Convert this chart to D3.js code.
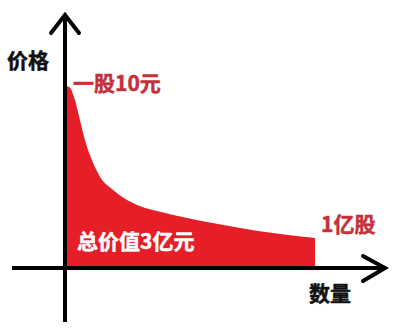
<!DOCTYPE html>
<html><head><meta charset="utf-8">
<script src="https://cdn.jsdelivr.net/npm/d3@7"></script>
<style>html,body{margin:0;padding:0;background:#fff;}svg{display:block;}</style>
</head><body>
<svg id="c" width="415" height="334"></svg>
<script>
// Quantity (亿股) and price (元) along the demand curve
const quantity = [0, 0.016, 0.036, 0.056, 0.076, 0.104, 0.137, 0.189, 0.269, 0.398, 0.566, 0.699, 0.831, 1];
const price    = [10, 9.9, 9.23, 8.13, 7.03, 5.93, 5.0, 4.29, 3.57, 3.02, 2.53, 2.2, 1.92, 1.65];
const axisLabels = ["价格", "数量"];
const annotations = ["一股10元", "1亿股", "总价值3亿元"];

const svg = d3.select("#c");
const x = d3.scaleLinear().domain([0, 1]).range([66, 315]);
const y = d3.scaleLinear().domain([0, 10]).range([268, 86]);
const data = quantity.map((q, i) => ({q, p: price[i]}));

const area = d3.area().x(d => x(d.q)).y0(y(0)).y1(d => y(d.p)).curve(d3.curveMonotoneX);
svg.append("path").datum(data).attr("d", area).attr("fill", "#e61e27");

const font = "'Noto Sans CJK SC', sans-serif";
// axes
const ax = x(0) - 1, ay = y(0);
svg.append("line").attr("x1", ax).attr("y1", 14).attr("x2", ax).attr("y2", 322)
  .attr("stroke", "#000").attr("stroke-width", 4);
svg.append("path").attr("d", `M${ax-14},${33} L${ax},${15} L${ax+14},${33}`)
  .attr("fill", "none").attr("stroke", "#000").attr("stroke-width", 4).attr("stroke-linecap","round");
svg.append("line").attr("x1", 12).attr("y1", ay).attr("x2", 386).attr("y2", ay)
  .attr("stroke", "#000").attr("stroke-width", 4);
svg.append("path").attr("d", `M${363},${256} L${385},${ay} L${363},${281}`)
  .attr("fill", "none").attr("stroke", "#000").attr("stroke-width", 4).attr("stroke-linecap","round");

function txt(t, xx, yy, fill, size) {
  svg.append("text").attr("x", xx).attr("y", yy).attr("fill", fill)
    .attr("stroke", fill).attr("stroke-width", 0.5)
    .attr("font-family", font).attr("font-weight", "bold").attr("font-size", size).text(t);
}
txt(axisLabels[0], 7, 68, "#111", 21);
txt(axisLabels[1], 309, 301, "#111", 21);
txt(annotations[0], 73, 91, "#c4303b", 21);
txt(annotations[1], 321, 232, "#c4303b", 21);
txt(annotations[2], 77, 249, "#fff", 21);
</script>
</body></html>
